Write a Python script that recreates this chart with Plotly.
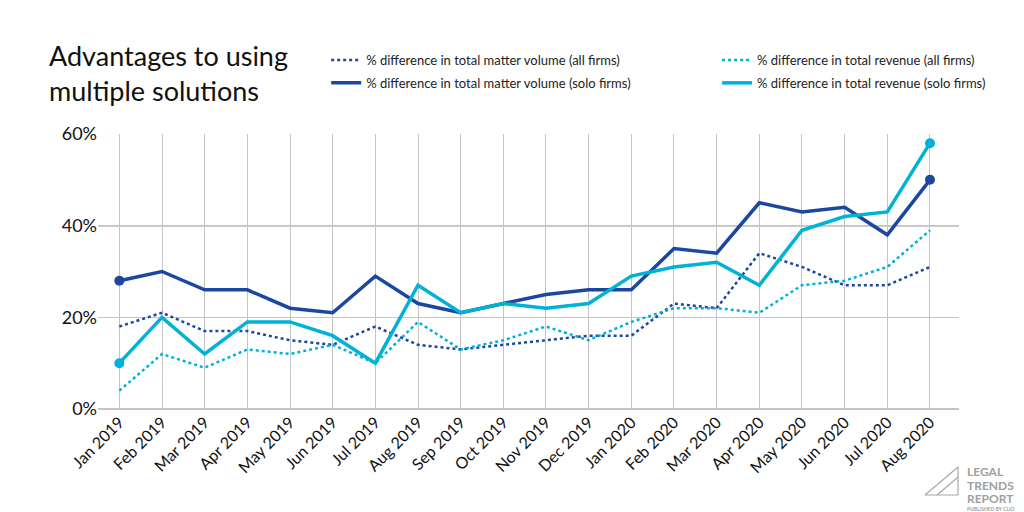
import plotly.graph_objects as go

months = ["Jan 2019", "Feb 2019", "Mar 2019", "Apr 2019", "May 2019", "Jun 2019",
          "Jul 2019", "Aug 2019", "Sep 2019", "Oct 2019", "Nov 2019", "Dec 2019",
          "Jan 2020", "Feb 2020", "Mar 2020", "Apr 2020", "May 2020", "Jun 2020",
          "Jul 2020", "Aug 2020"]

matter_all = [18, 21, 17, 17, 15, 14, 18, 14, 13, 14, 15, 16, 16, 23, 22, 34, 31, 27, 27, 31]
revenue_all = [4, 12, 9, 13, 12, 14, 10, 19, 13, 15, 18, 15, 19, 22, 22, 21, 27, 28, 31, 39]
matter_solo = [28, 30, 26, 26, 22, 21, 29, 23, 21, 23, 25, 26, 26, 35, 34, 45, 43, 44, 38, 50]
revenue_solo = [10, 20, 12, 19, 19, 16, 10, 27, 21, 23, 22, 23, 29, 31, 32, 27, 39, 42, 43, 58]

y_ticks = [0, 20, 40, 60]
y_labels = ["0%", "20%", "40%", "60%"]

DARK = "#1c47a1"
CYAN = "#00b2d8"
FONT = "Lato, 'Open Sans', sans-serif"

fig = go.Figure()

fig.add_trace(go.Scatter(x=months, y=matter_all, mode="lines",
                         name="% difference in total matter volume (all firms)",
                         line=dict(color=DARK, width=2.5, dash="dot"), legend="legend",
                         legendgroup="a"))
fig.add_trace(go.Scatter(x=months, y=matter_solo, mode="lines",
                         name="% difference in total matter volume (solo firms)",
                         line=dict(color=DARK, width=3.5), legend="legend", legendgroup="b"))
fig.add_trace(go.Scatter(x=months, y=revenue_all, mode="lines",
                         name="% difference in total revenue (all firms)",
                         line=dict(color=CYAN, width=2.5, dash="dot"), legend="legend2",
                         legendgroup="c"))
fig.add_trace(go.Scatter(x=months, y=revenue_solo, mode="lines",
                         name="% difference in total revenue (solo firms)",
                         line=dict(color=CYAN, width=3.5), legend="legend2", legendgroup="d"))

# end-point markers on solid lines
for ys, c in [(matter_solo, DARK), (revenue_solo, CYAN)]:
    fig.add_trace(go.Scatter(x=[months[0], months[-1]], y=[ys[0], ys[-1]], mode="markers",
                             marker=dict(color=c, size=10), showlegend=False, hoverinfo="skip"))

# darker 40% line
fig.add_shape(type="line", xref="paper", x0=0, x1=1, yref="y", y0=40, y1=40,
              line=dict(color="#9a9a9a", width=1.5), layer="below")

# title
fig.add_annotation(text="Advantages to using<br>multiple solutions", xref="paper", yref="paper",
                   x=-0.059, y=(409 - 37) / 275, xanchor="left", yanchor="top", align="left",
                   showarrow=False, font=dict(family=FONT, size=27, color="#111111"))

# logo
logo_lines = [((925, 495), (958, 467)), ((958, 467), (958, 495)), ((925, 495), (958, 495)),
              ((937, 495), (958, 477))]
for (xa, ya), (xb, yb) in logo_lines:
    fig.add_shape(type="line", xref="paper", yref="paper",
                  x0=(xa - 98) / 861, x1=(xb - 98) / 861,
                  y0=(409 - ya) / 275, y1=(409 - yb) / 275,
                  line=dict(color="#a8a8a8", width=1.2))
for txt, yy, sz in [("LEGAL", 471, 12), ("TRENDS", 485, 12), ("REPORT", 499, 12),
                    ("PUBLISHED BY CLIO", 509, 5)]:
    fig.add_annotation(text="<b>" + txt + "</b>", xref="paper", yref="paper",
                       x=(965 - 98) / 861, y=(409 - yy) / 275, xanchor="left", yanchor="middle",
                       showarrow=False, font=dict(family=FONT, size=sz, color="#a0a0a0"))

fig.update_layout(
    width=1024, height=512,
    margin=dict(l=98, r=65, t=134, b=103),
    plot_bgcolor="white", paper_bgcolor="white",
    font=dict(family=FONT, color="#111111"),
    legend=dict(x=0.265, y=(409 - 45) / 275, xanchor="left", yanchor="top", orientation="v",
                font=dict(size=13, color="#222222"), itemwidth=30, tracegroupgap=3,
                bgcolor="rgba(0,0,0,0)"),
    legend2=dict(x=0.719, y=(409 - 45) / 275, xanchor="left", yanchor="top", orientation="v",
                 font=dict(size=13, color="#222222"), itemwidth=30, tracegroupgap=3,
                 bgcolor="rgba(0,0,0,0)"),
    xaxis=dict(type="category", range=[-0.5, 19.68], showgrid=True, gridcolor="#c4c4c4",
               gridwidth=1, tickangle=-45, tickfont=dict(size=16, color="#111111"),
               showline=False, ticks="", fixedrange=True),
    yaxis=dict(range=[0, 60], tickmode="array", tickvals=y_ticks, ticktext=y_labels,
               showgrid=True, gridcolor="#c4c4c4", gridwidth=1, zeroline=True,
               zerolinecolor="#c4c4c4", tickfont=dict(size=18, color="#111111"), ticks="",
               showline=False),
)

fig.write_html("out.html")
